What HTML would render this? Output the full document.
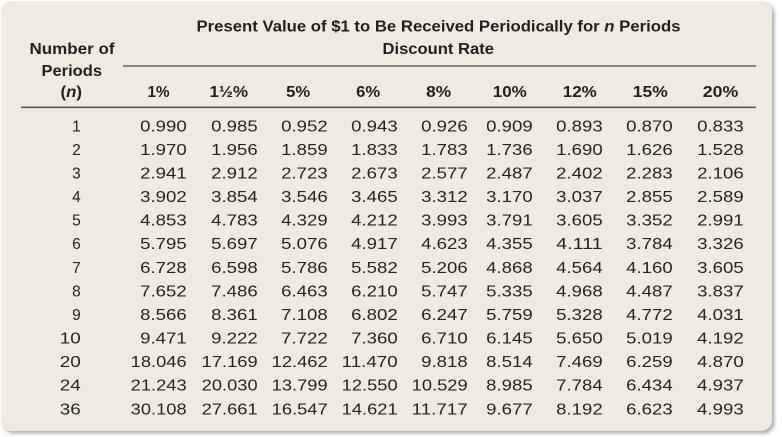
<!DOCTYPE html>
<html><head><meta charset="utf-8"><style>
html,body{margin:0;padding:0;background:#fff;}
svg{display:block;}
.b{font-family:"Liberation Sans",sans-serif;font-weight:bold;font-size:16px;fill:#231f20;}
.d{font-family:"Liberation Sans",sans-serif;font-size:15.5px;fill:#262324;}
</style></head><body>
<svg width="782" height="437" viewBox="0 0 782 437" xmlns="http://www.w3.org/2000/svg">
<defs><filter id="sh" x="-5%" y="-5%" width="110%" height="110%"><feDropShadow dx="2.5" dy="2.5" stdDeviation="1.8" flood-color="#777" flood-opacity="0.6"/></filter></defs>
<rect x="1" y="1" width="771" height="430" rx="11" ry="11" fill="#eeebe0" filter="url(#sh)"/>
<g class="b">
<text x="196.5" y="31.5" textLength="484" lengthAdjust="spacingAndGlyphs">Present Value of $1 to Be Received Periodically for <tspan font-style="italic">n</tspan> Periods</text>
<text x="382.5" y="54" textLength="111.5" lengthAdjust="spacingAndGlyphs">Discount Rate</text>
<text x="29.5" y="54" textLength="85" lengthAdjust="spacingAndGlyphs">Number of</text>
<text x="41.5" y="76" textLength="60.5" lengthAdjust="spacingAndGlyphs">Periods</text>
<text x="60.5" y="97" textLength="21.5" lengthAdjust="spacingAndGlyphs">(<tspan font-style="italic">n</tspan>)</text>
<text x="147.5" y="97" textLength="22" lengthAdjust="spacingAndGlyphs">1%</text>
<text x="209.5" y="97" textLength="38.5" lengthAdjust="spacingAndGlyphs">1½%</text>
<text x="286.2" y="97" textLength="24" lengthAdjust="spacingAndGlyphs">5%</text>
<text x="356.2" y="97" textLength="24" lengthAdjust="spacingAndGlyphs">6%</text>
<text x="426.2" y="97" textLength="25" lengthAdjust="spacingAndGlyphs">8%</text>
<text x="492.8" y="97" textLength="34" lengthAdjust="spacingAndGlyphs">10%</text>
<text x="562.8" y="97" textLength="34" lengthAdjust="spacingAndGlyphs">12%</text>
<text x="632.8" y="97" textLength="35" lengthAdjust="spacingAndGlyphs">15%</text>
<text x="702.8" y="97" textLength="35.5" lengthAdjust="spacingAndGlyphs">20%</text>
</g>
<line x1="123" y1="66" x2="756" y2="66" stroke="#4a4a4a" stroke-width="1.3"/>
<line x1="21" y1="107.3" x2="756" y2="107.3" stroke="#5a5a5a" stroke-width="1.6"/>
<g class="d" text-anchor="end">
<text x="80.8" y="131.3">1</text>
<text x="80.8" y="154.9">2</text>
<text x="80.8" y="178.5">3</text>
<text x="80.8" y="202.0">4</text>
<text x="80.8" y="225.6">5</text>
<text x="80.8" y="249.2">6</text>
<text x="80.8" y="272.8">7</text>
<text x="80.8" y="296.4">8</text>
<text x="80.8" y="320.0">9</text>
<text x="80.8" y="343.5" textLength="21" lengthAdjust="spacingAndGlyphs">10</text>
<text x="80.8" y="367.1" textLength="21" lengthAdjust="spacingAndGlyphs">20</text>
<text x="80.8" y="390.7" textLength="21" lengthAdjust="spacingAndGlyphs">24</text>
<text x="80.8" y="414.3" textLength="21" lengthAdjust="spacingAndGlyphs">36</text>
</g>
<g class="d" text-anchor="end">
<!-- 1% -->
<text x="186.7" y="131.3" textLength="46.5" lengthAdjust="spacingAndGlyphs">0.990</text>
<text x="186.7" y="154.9" textLength="46.5" lengthAdjust="spacingAndGlyphs">1.970</text>
<text x="186.7" y="178.5" textLength="46.5" lengthAdjust="spacingAndGlyphs">2.941</text>
<text x="186.7" y="202.0" textLength="46.5" lengthAdjust="spacingAndGlyphs">3.902</text>
<text x="186.7" y="225.6" textLength="46.5" lengthAdjust="spacingAndGlyphs">4.853</text>
<text x="186.7" y="249.2" textLength="46.5" lengthAdjust="spacingAndGlyphs">5.795</text>
<text x="186.7" y="272.8" textLength="46.5" lengthAdjust="spacingAndGlyphs">6.728</text>
<text x="186.7" y="296.4" textLength="46.5" lengthAdjust="spacingAndGlyphs">7.652</text>
<text x="186.7" y="320.0" textLength="46.5" lengthAdjust="spacingAndGlyphs">8.566</text>
<text x="186.7" y="343.5" textLength="46.5" lengthAdjust="spacingAndGlyphs">9.471</text>
<text x="186.7" y="367.1" textLength="56" lengthAdjust="spacingAndGlyphs">18.046</text>
<text x="186.7" y="390.7" textLength="56" lengthAdjust="spacingAndGlyphs">21.243</text>
<text x="186.7" y="414.3" textLength="56" lengthAdjust="spacingAndGlyphs">30.108</text>
<!-- 1.5% -->
<text x="257.7" y="131.3" textLength="46.5" lengthAdjust="spacingAndGlyphs">0.985</text>
<text x="257.7" y="154.9" textLength="46.5" lengthAdjust="spacingAndGlyphs">1.956</text>
<text x="257.7" y="178.5" textLength="46.5" lengthAdjust="spacingAndGlyphs">2.912</text>
<text x="257.7" y="202.0" textLength="46.5" lengthAdjust="spacingAndGlyphs">3.854</text>
<text x="257.7" y="225.6" textLength="46.5" lengthAdjust="spacingAndGlyphs">4.783</text>
<text x="257.7" y="249.2" textLength="46.5" lengthAdjust="spacingAndGlyphs">5.697</text>
<text x="257.7" y="272.8" textLength="46.5" lengthAdjust="spacingAndGlyphs">6.598</text>
<text x="257.7" y="296.4" textLength="46.5" lengthAdjust="spacingAndGlyphs">7.486</text>
<text x="257.7" y="320.0" textLength="46.5" lengthAdjust="spacingAndGlyphs">8.361</text>
<text x="257.7" y="343.5" textLength="46.5" lengthAdjust="spacingAndGlyphs">9.222</text>
<text x="257.7" y="367.1" textLength="56" lengthAdjust="spacingAndGlyphs">17.169</text>
<text x="257.7" y="390.7" textLength="56" lengthAdjust="spacingAndGlyphs">20.030</text>
<text x="257.7" y="414.3" textLength="56" lengthAdjust="spacingAndGlyphs">27.661</text>
<!-- 5% -->
<text x="327.7" y="131.3" textLength="46.5" lengthAdjust="spacingAndGlyphs">0.952</text>
<text x="327.7" y="154.9" textLength="46.5" lengthAdjust="spacingAndGlyphs">1.859</text>
<text x="327.7" y="178.5" textLength="46.5" lengthAdjust="spacingAndGlyphs">2.723</text>
<text x="327.7" y="202.0" textLength="46.5" lengthAdjust="spacingAndGlyphs">3.546</text>
<text x="327.7" y="225.6" textLength="46.5" lengthAdjust="spacingAndGlyphs">4.329</text>
<text x="327.7" y="249.2" textLength="46.5" lengthAdjust="spacingAndGlyphs">5.076</text>
<text x="327.7" y="272.8" textLength="46.5" lengthAdjust="spacingAndGlyphs">5.786</text>
<text x="327.7" y="296.4" textLength="46.5" lengthAdjust="spacingAndGlyphs">6.463</text>
<text x="327.7" y="320.0" textLength="46.5" lengthAdjust="spacingAndGlyphs">7.108</text>
<text x="327.7" y="343.5" textLength="46.5" lengthAdjust="spacingAndGlyphs">7.722</text>
<text x="327.7" y="367.1" textLength="56" lengthAdjust="spacingAndGlyphs">12.462</text>
<text x="327.7" y="390.7" textLength="56" lengthAdjust="spacingAndGlyphs">13.799</text>
<text x="327.7" y="414.3" textLength="56" lengthAdjust="spacingAndGlyphs">16.547</text>
<!-- 6% -->
<text x="397.7" y="131.3" textLength="46.5" lengthAdjust="spacingAndGlyphs">0.943</text>
<text x="397.7" y="154.9" textLength="46.5" lengthAdjust="spacingAndGlyphs">1.833</text>
<text x="397.7" y="178.5" textLength="46.5" lengthAdjust="spacingAndGlyphs">2.673</text>
<text x="397.7" y="202.0" textLength="46.5" lengthAdjust="spacingAndGlyphs">3.465</text>
<text x="397.7" y="225.6" textLength="46.5" lengthAdjust="spacingAndGlyphs">4.212</text>
<text x="397.7" y="249.2" textLength="46.5" lengthAdjust="spacingAndGlyphs">4.917</text>
<text x="397.7" y="272.8" textLength="46.5" lengthAdjust="spacingAndGlyphs">5.582</text>
<text x="397.7" y="296.4" textLength="46.5" lengthAdjust="spacingAndGlyphs">6.210</text>
<text x="397.7" y="320.0" textLength="46.5" lengthAdjust="spacingAndGlyphs">6.802</text>
<text x="397.7" y="343.5" textLength="46.5" lengthAdjust="spacingAndGlyphs">7.360</text>
<text x="397.7" y="367.1" textLength="56" lengthAdjust="spacingAndGlyphs">11.470</text>
<text x="397.7" y="390.7" textLength="56" lengthAdjust="spacingAndGlyphs">12.550</text>
<text x="397.7" y="414.3" textLength="56" lengthAdjust="spacingAndGlyphs">14.621</text>
<!-- 8% -->
<text x="467.7" y="131.3" textLength="46.5" lengthAdjust="spacingAndGlyphs">0.926</text>
<text x="467.7" y="154.9" textLength="46.5" lengthAdjust="spacingAndGlyphs">1.783</text>
<text x="467.7" y="178.5" textLength="46.5" lengthAdjust="spacingAndGlyphs">2.577</text>
<text x="467.7" y="202.0" textLength="46.5" lengthAdjust="spacingAndGlyphs">3.312</text>
<text x="467.7" y="225.6" textLength="46.5" lengthAdjust="spacingAndGlyphs">3.993</text>
<text x="467.7" y="249.2" textLength="46.5" lengthAdjust="spacingAndGlyphs">4.623</text>
<text x="467.7" y="272.8" textLength="46.5" lengthAdjust="spacingAndGlyphs">5.206</text>
<text x="467.7" y="296.4" textLength="46.5" lengthAdjust="spacingAndGlyphs">5.747</text>
<text x="467.7" y="320.0" textLength="46.5" lengthAdjust="spacingAndGlyphs">6.247</text>
<text x="467.7" y="343.5" textLength="46.5" lengthAdjust="spacingAndGlyphs">6.710</text>
<text x="467.7" y="367.1" textLength="46.5" lengthAdjust="spacingAndGlyphs">9.818</text>
<text x="467.7" y="390.7" textLength="56" lengthAdjust="spacingAndGlyphs">10.529</text>
<text x="467.7" y="414.3" textLength="56" lengthAdjust="spacingAndGlyphs">11.717</text>
<!-- 10% -->
<text x="532.7" y="131.3" textLength="46.5" lengthAdjust="spacingAndGlyphs">0.909</text>
<text x="532.7" y="154.9" textLength="46.5" lengthAdjust="spacingAndGlyphs">1.736</text>
<text x="532.7" y="178.5" textLength="46.5" lengthAdjust="spacingAndGlyphs">2.487</text>
<text x="532.7" y="202.0" textLength="46.5" lengthAdjust="spacingAndGlyphs">3.170</text>
<text x="532.7" y="225.6" textLength="46.5" lengthAdjust="spacingAndGlyphs">3.791</text>
<text x="532.7" y="249.2" textLength="46.5" lengthAdjust="spacingAndGlyphs">4.355</text>
<text x="532.7" y="272.8" textLength="46.5" lengthAdjust="spacingAndGlyphs">4.868</text>
<text x="532.7" y="296.4" textLength="46.5" lengthAdjust="spacingAndGlyphs">5.335</text>
<text x="532.7" y="320.0" textLength="46.5" lengthAdjust="spacingAndGlyphs">5.759</text>
<text x="532.7" y="343.5" textLength="46.5" lengthAdjust="spacingAndGlyphs">6.145</text>
<text x="532.7" y="367.1" textLength="46.5" lengthAdjust="spacingAndGlyphs">8.514</text>
<text x="532.7" y="390.7" textLength="46.5" lengthAdjust="spacingAndGlyphs">8.985</text>
<text x="532.7" y="414.3" textLength="46.5" lengthAdjust="spacingAndGlyphs">9.677</text>
<!-- 12% -->
<text x="602.7" y="131.3" textLength="46.5" lengthAdjust="spacingAndGlyphs">0.893</text>
<text x="602.7" y="154.9" textLength="46.5" lengthAdjust="spacingAndGlyphs">1.690</text>
<text x="602.7" y="178.5" textLength="46.5" lengthAdjust="spacingAndGlyphs">2.402</text>
<text x="602.7" y="202.0" textLength="46.5" lengthAdjust="spacingAndGlyphs">3.037</text>
<text x="602.7" y="225.6" textLength="46.5" lengthAdjust="spacingAndGlyphs">3.605</text>
<text x="602.7" y="249.2" textLength="46.5" lengthAdjust="spacingAndGlyphs">4.111</text>
<text x="602.7" y="272.8" textLength="46.5" lengthAdjust="spacingAndGlyphs">4.564</text>
<text x="602.7" y="296.4" textLength="46.5" lengthAdjust="spacingAndGlyphs">4.968</text>
<text x="602.7" y="320.0" textLength="46.5" lengthAdjust="spacingAndGlyphs">5.328</text>
<text x="602.7" y="343.5" textLength="46.5" lengthAdjust="spacingAndGlyphs">5.650</text>
<text x="602.7" y="367.1" textLength="46.5" lengthAdjust="spacingAndGlyphs">7.469</text>
<text x="602.7" y="390.7" textLength="46.5" lengthAdjust="spacingAndGlyphs">7.784</text>
<text x="602.7" y="414.3" textLength="46.5" lengthAdjust="spacingAndGlyphs">8.192</text>
<!-- 15% -->
<text x="672.7" y="131.3" textLength="46.5" lengthAdjust="spacingAndGlyphs">0.870</text>
<text x="672.7" y="154.9" textLength="46.5" lengthAdjust="spacingAndGlyphs">1.626</text>
<text x="672.7" y="178.5" textLength="46.5" lengthAdjust="spacingAndGlyphs">2.283</text>
<text x="672.7" y="202.0" textLength="46.5" lengthAdjust="spacingAndGlyphs">2.855</text>
<text x="672.7" y="225.6" textLength="46.5" lengthAdjust="spacingAndGlyphs">3.352</text>
<text x="672.7" y="249.2" textLength="46.5" lengthAdjust="spacingAndGlyphs">3.784</text>
<text x="672.7" y="272.8" textLength="46.5" lengthAdjust="spacingAndGlyphs">4.160</text>
<text x="672.7" y="296.4" textLength="46.5" lengthAdjust="spacingAndGlyphs">4.487</text>
<text x="672.7" y="320.0" textLength="46.5" lengthAdjust="spacingAndGlyphs">4.772</text>
<text x="672.7" y="343.5" textLength="46.5" lengthAdjust="spacingAndGlyphs">5.019</text>
<text x="672.7" y="367.1" textLength="46.5" lengthAdjust="spacingAndGlyphs">6.259</text>
<text x="672.7" y="390.7" textLength="46.5" lengthAdjust="spacingAndGlyphs">6.434</text>
<text x="672.7" y="414.3" textLength="46.5" lengthAdjust="spacingAndGlyphs">6.623</text>
<!-- 20% -->
<text x="743.7" y="131.3" textLength="46.5" lengthAdjust="spacingAndGlyphs">0.833</text>
<text x="743.7" y="154.9" textLength="46.5" lengthAdjust="spacingAndGlyphs">1.528</text>
<text x="743.7" y="178.5" textLength="46.5" lengthAdjust="spacingAndGlyphs">2.106</text>
<text x="743.7" y="202.0" textLength="46.5" lengthAdjust="spacingAndGlyphs">2.589</text>
<text x="743.7" y="225.6" textLength="46.5" lengthAdjust="spacingAndGlyphs">2.991</text>
<text x="743.7" y="249.2" textLength="46.5" lengthAdjust="spacingAndGlyphs">3.326</text>
<text x="743.7" y="272.8" textLength="46.5" lengthAdjust="spacingAndGlyphs">3.605</text>
<text x="743.7" y="296.4" textLength="46.5" lengthAdjust="spacingAndGlyphs">3.837</text>
<text x="743.7" y="320.0" textLength="46.5" lengthAdjust="spacingAndGlyphs">4.031</text>
<text x="743.7" y="343.5" textLength="46.5" lengthAdjust="spacingAndGlyphs">4.192</text>
<text x="743.7" y="367.1" textLength="46.5" lengthAdjust="spacingAndGlyphs">4.870</text>
<text x="743.7" y="390.7" textLength="46.5" lengthAdjust="spacingAndGlyphs">4.937</text>
<text x="743.7" y="414.3" textLength="46.5" lengthAdjust="spacingAndGlyphs">4.993</text>
</g>
</svg>
</body></html>
